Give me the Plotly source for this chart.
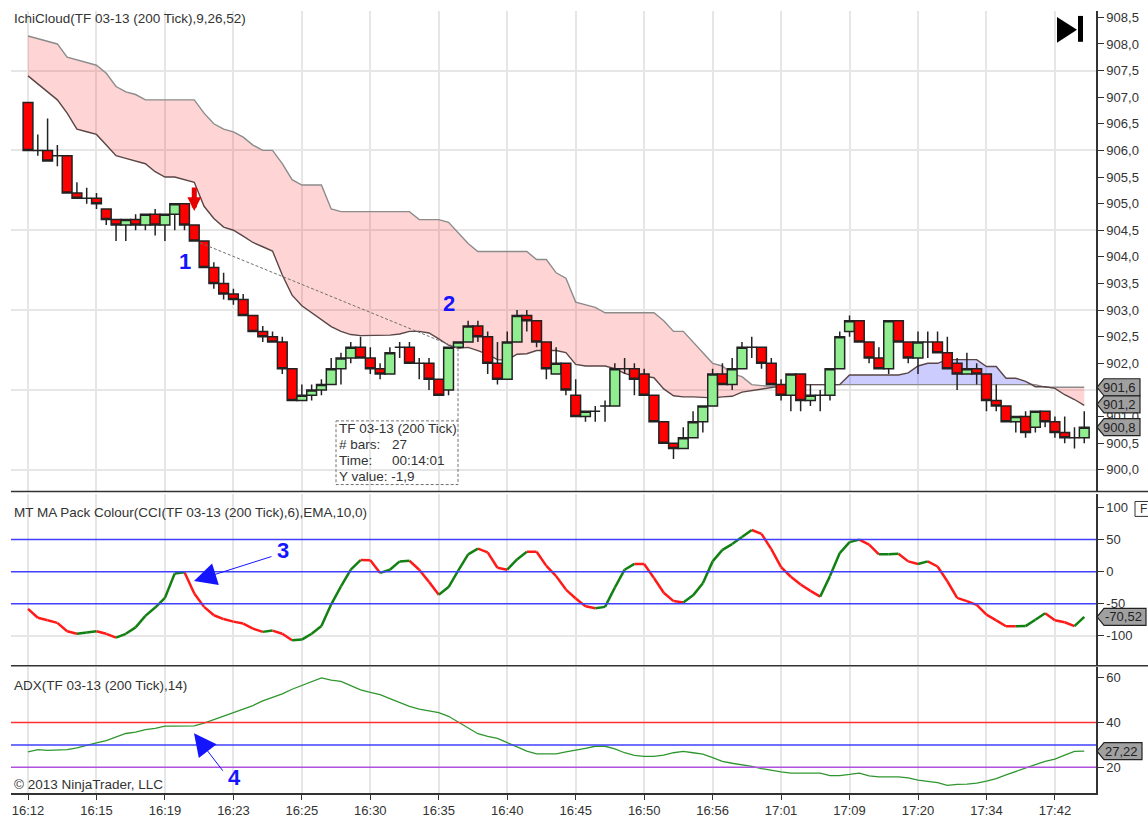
import plotly.graph_objects as go
from plotly.subplots import make_subplots

# ---------------- DATA ----------------
bar_open = [
    906.9, 906.0, 906.0, 905.9, 905.9, 905.2, 905.1, 905.1, 904.9, 904.7,
    904.6, 904.7, 904.6, 904.8, 904.6, 904.8, 905.0, 904.6, 904.3, 903.8,
    903.5, 903.3, 903.2, 902.9, 902.6, 902.5, 902.4, 901.9, 901.3, 901.4,
    901.5, 901.6, 901.9, 902.1, 902.3, 902.1, 901.9, 901.8, 902.3, 902.3,
    902.0, 902.0, 901.7, 901.5, 902.3, 902.4, 902.7, 902.5, 902.0, 901.7,
    902.4, 902.9, 902.8, 902.4, 901.8, 902.0, 901.4, 901.0, 901.1, 901.2,
    901.2, 901.9, 901.9, 901.8, 901.4, 900.9, 900.5, 900.4, 900.6, 900.9,
    901.2, 901.8, 901.6, 901.9, 902.3, 902.3, 902.0, 901.6, 901.4, 901.8,
    901.3, 901.4, 901.4, 901.9, 902.6, 902.8, 902.4, 902.1, 901.9, 902.8,
    902.4, 902.1, 902.4, 902.4, 902.2, 902.0, 901.8, 901.9, 901.8, 901.3,
    901.2, 900.9, 901.0, 900.8, 901.1, 900.9, 900.7, 900.6, 900.6,
]
bar_high = [
    906.9, 906.3, 906.6, 906.1, 905.9, 905.4, 905.3, 905.2, 904.9, 904.7,
    904.7, 904.8, 904.8, 904.9, 904.8, 905.0, 905.0, 904.6, 904.3, 903.9,
    903.7, 903.4, 903.3, 902.9, 902.7, 902.6, 902.5, 901.9, 901.6, 901.6,
    901.7, 902.1, 902.2, 902.4, 902.5, 902.3, 902.0, 902.3, 902.4, 902.4,
    902.1, 902.1, 901.7, 902.3, 902.4, 902.8, 902.8, 902.6, 902.4, 902.6,
    903.0, 903.0, 902.8, 902.4, 902.3, 902.0, 901.7, 901.1, 901.2, 901.3,
    902.0, 902.1, 902.0, 901.9, 901.4, 900.9, 900.5, 900.8, 901.1, 901.2,
    901.9, 902.0, 902.1, 902.4, 902.5, 902.3, 902.1, 901.7, 901.8, 901.8,
    901.6, 901.5, 901.9, 902.6, 902.9, 902.8, 902.4, 902.3, 902.8, 902.8,
    902.4, 902.6, 902.6, 902.6, 902.5, 902.1, 902.2, 902.0, 901.8, 901.6,
    901.2, 901.0, 901.1, 901.1, 901.1, 901.0, 901.0, 900.8, 901.1,
]
bar_low = [
    906.0, 905.9, 905.8, 905.7, 905.2, 905.1, 905.0, 904.9, 904.6, 904.3,
    904.3, 904.5, 904.5, 904.4, 904.3, 904.5, 904.5, 904.3, 903.8, 903.4,
    903.2, 903.1, 902.9, 902.6, 902.4, 902.4, 901.8, 901.3, 901.3, 901.3,
    901.4, 901.6, 901.6, 902.0, 902.1, 901.8, 901.7, 901.8, 902.1, 902.0,
    901.7, 901.5, 901.4, 901.4, 902.3, 902.4, 902.4, 901.8, 901.6, 901.7,
    902.4, 902.6, 902.3, 901.7, 901.8, 901.4, 901.0, 900.9, 900.9, 900.9,
    901.2, 901.8, 901.4, 901.4, 900.9, 900.5, 900.2, 900.4, 900.6, 900.7,
    901.2, 901.6, 901.5, 901.9, 902.1, 901.9, 901.6, 901.3, 901.1, 901.1,
    901.2, 901.1, 901.3, 901.9, 902.5, 902.4, 902.0, 901.9, 901.8, 902.4,
    902.0, 901.8, 902.1, 902.2, 901.9, 901.5, 901.8, 901.6, 901.1, 901.1,
    900.9, 900.7, 900.6, 900.7, 900.8, 900.6, 900.5, 900.4, 900.5,
]
bar_close = [
    906.0, 906.0, 905.8, 905.9, 905.2, 905.1, 905.1, 905.0, 904.7, 904.6,
    904.7, 904.6, 904.8, 904.6, 904.8, 905.0, 904.6, 904.3, 903.8, 903.5,
    903.3, 903.2, 902.9, 902.6, 902.5, 902.4, 901.9, 901.3, 901.4, 901.5,
    901.6, 901.9, 902.1, 902.3, 902.1, 901.9, 901.8, 902.2, 902.3, 902.0,
    902.0, 901.7, 901.4, 902.3, 902.4, 902.7, 902.5, 902.0, 901.7, 902.4,
    902.9, 902.8, 902.4, 901.9, 902.0, 901.5, 901.0, 901.1, 901.1, 901.2,
    901.9, 901.9, 901.7, 901.4, 900.9, 900.5, 900.4, 900.6, 900.9, 901.2,
    901.8, 901.6, 901.9, 902.3, 902.3, 902.0, 901.6, 901.4, 901.8, 901.3,
    901.4, 901.4, 901.9, 902.5, 902.8, 902.4, 902.1, 901.9, 902.8, 902.4,
    902.1, 902.4, 902.4, 902.2, 901.9, 901.8, 901.9, 901.8, 901.3, 901.2,
    900.9, 901.0, 900.7, 901.1, 900.9, 900.7, 900.6, 900.6, 900.8,
]
cloud_grey = [
    908.15, 908.1, 908.05, 908.0, 907.75, 907.7, 907.65, 907.6, 907.45, 907.2,
    907.1, 907.05, 906.95, 906.95, 906.95, 906.95, 906.95, 906.95, 906.7, 906.5,
    906.4, 906.35, 906.25, 906.1, 906.0, 906.0, 905.75, 905.45, 905.35, 905.35,
    905.35, 904.9, 904.85, 904.85, 904.85, 904.85, 904.85, 904.85, 904.85, 904.85,
    904.7, 904.7, 904.7, 904.65, 904.45, 904.25, 904.1, 904.1, 904.1, 904.1,
    904.1, 904.1, 903.95, 903.95, 903.7, 903.6, 903.15, 903.1, 903.05, 902.95,
    902.95, 902.95, 902.95, 902.95, 902.95, 902.8, 902.6, 902.6, 902.4, 902.2,
    902.0, 901.95, 901.8, 901.75, 901.6, 901.58, 901.57, 901.6, 901.6, 901.6,
    901.6, 901.6, 901.6, 901.6, 901.6, 901.6, 901.6, 901.6, 901.6, 901.6,
    901.6, 901.6, 901.6, 901.6, 901.6, 901.6, 901.6, 901.6, 901.6, 901.6,
    901.6, 901.6, 901.6, 901.6, 901.55, 901.55, 901.55, 901.55, 901.55,
]
cloud_dark = [
    907.4, 907.25, 907.1, 906.95, 906.7, 906.4, 906.35, 906.3, 906.1, 905.9,
    905.85, 905.8, 905.75, 905.6, 905.5, 905.5, 905.45, 905.4, 904.95, 904.72,
    904.56, 904.5, 904.39, 904.27, 904.19, 904.11, 903.66, 903.28, 903.08, 902.95,
    902.82, 902.69, 902.6, 902.54, 902.52, 902.52, 902.52, 902.53, 902.55, 902.6,
    902.6, 902.57, 902.46, 902.34, 902.28, 902.3, 902.24, 902.17, 902.07, 902.06,
    902.17, 902.18, 902.24, 902.24, 902.24, 902.2, 901.98, 901.95, 901.95, 901.95,
    901.9, 901.81, 901.76, 901.76, 901.73, 901.52, 901.39, 901.37, 901.37, 901.36,
    901.35, 901.37, 901.38, 901.46, 901.49, 901.51, 901.55, 901.57, 901.6, 901.6,
    901.6, 901.6, 901.6, 901.6, 901.78, 901.78, 901.78, 901.78, 901.78, 901.78,
    901.82, 901.95, 902.0, 902.0, 902.07, 902.07, 902.07, 902.07, 901.94, 901.94,
    901.72, 901.72, 901.66, 901.56, 901.56, 901.53, 901.41, 901.32, 901.21,
]
cci_ma = [
    -58, -72, -76, -80, -93, -97, -95, -93, -97, -103,
    -97, -87, -69, -56, -41, -3, -1, -34, -55, -68,
    -74, -78, -81, -89, -94, -92, -97, -107, -106, -97,
    -85, -51, -23, 3, 18, 17.9, -2, 3, 16, 17,
    3, -16, -36, -24, 2, 27, 36, 30, 6, 3,
    19, 31, 30.9, 9, -7, -28, -42, -54, -57, -55,
    -25, 3, 12, 11.9, -10, -33, -46, -48, -37, -18,
    16, 34, 43, 54, 65, 59, 35, 7, -8, -20,
    -30, -39, -7, 29, 46, 50, 42, 27, 27.2, 28,
    16, 12, 16, 8, -15, -41, -46, -52, -67, -76,
    -85.2, -85.4, -85, -75, -65, -76, -79, -85, -70.5,
]
adx = [
    26.9, 27.9, 27.6, 27.6, 27.9, 28.7, 29.9, 30.9, 31.9, 33.5,
    35.1, 35.7, 36.8, 37.4, 38.4, 38.4, 38.4, 38.5, 39.7, 41.3,
    42.9, 44.6, 46, 47.6, 49.7, 51.2, 52.8, 54.9, 56.6, 58.4,
    60, 59, 58.4, 56.5, 54.6, 53.5, 52.5, 50.7, 49.1, 47.2,
    46, 45.3, 44.4, 42.8, 40.1, 37.5, 35, 33.8, 32.9, 31,
    29.1, 27.2, 26, 26, 26, 26.9, 27.6, 28.5, 29.4, 29.4,
    28.2, 26.5, 25.3, 24.9, 24.9, 25.4, 26.5, 27.1, 26.5, 25.9,
    24.3, 22.6, 21.8, 21.2, 20.4, 19.4, 18.5, 17.9, 17.4, 17.4,
    17.4, 17.4, 16.3, 16.3, 16.8, 17.4, 16.2, 15.7, 15.7, 15.7,
    15.3, 14.3, 13.7, 13.1, 11.9, 12.4, 12.5, 12.9, 13.8, 14.9,
    16.6, 18.2, 19.7, 21.2, 22.6, 23.7, 25.4, 27.1, 27.22,
]
time_labels = ["16:12", "16:15", "16:19", "16:23", "16:25", "16:30", "16:35", "16:40",
               "16:45", "16:50", "16:56", "17:01", "17:09", "17:20", "17:34", "17:42"]
time_ticks = list(range(0, 112, 7))
price_ticks = [900 + 0.5 * i for i in range(18)]
price_grid = [900.0, 901.5, 903.0, 904.5, 906.0, 907.5]
cci_ticks = [-100, -50, 0, 50, 100]
cci_labels = ["-100", "-50", "0", "50", "100"]
cci_levels = [50, 0, -50]
adx_ticks = [20, 40, 60]
adx_levels = [(40, "#ff3030"), (30, "#4040ff"), (20, "#b050e0")]

FONT = "Liberation Sans"
TEXT = "#333333"
GRID = "#e6e6e6"
DARK = "#333333"
PRICE_RANGE = [899.61, 908.62]

bars = list(range(len(bar_open)))


# window pixels to paper coordinates (plot area is x 11-1096, y 0-796)
def px(x):
    return (x - 11) / 1085


def py(y):
    return 1 - y / 796


fig = make_subplots(rows=3, cols=1, shared_xaxes=True, vertical_spacing=0)

# ---------------- ICHIMOKU CLOUD ----------------
cloud_top = [max(g, d) for g, d in zip(cloud_grey, cloud_dark)]
for base, colour in ((cloud_dark, "rgba(255,0,0,0.17)"), (cloud_grey, "rgba(0,0,255,0.2)")):
    fig.add_trace(go.Scatter(x=bars, y=base, mode="lines", line=dict(width=0),
                             hoverinfo="skip"), row=1, col=1)
    fig.add_trace(go.Scatter(x=bars, y=cloud_top, mode="lines", line=dict(width=0),
                             fill="tonexty", fillcolor=colour, hoverinfo="skip"), row=1, col=1)
fig.add_trace(go.Scatter(x=bars, y=cloud_grey, mode="lines",
                         line=dict(color="#8c8c8c", width=1.4)), row=1, col=1)
fig.add_trace(go.Scatter(x=bars, y=cloud_dark, mode="lines",
                         line=dict(color="#5a4646", width=1.4)), row=1, col=1)

# ---------------- CCI MA, coloured by direction ----------------
for colour, rising in (("#ff1a1a", False), ("#128012", True)):
    seg_x, seg_y = [], []
    for i in bars[:-1]:
        if (cci_ma[i + 1] > cci_ma[i]) == rising:
            seg_x += [i, i + 1, None]
            seg_y += [cci_ma[i], cci_ma[i + 1], None]
    fig.add_trace(go.Scatter(x=seg_x, y=seg_y, mode="lines",
                             line=dict(color=colour, width=2.5)), row=2, col=1)

# ---------------- ADX ----------------
fig.add_trace(go.Scatter(x=bars, y=adx, mode="lines",
                         line=dict(color="#2f962f", width=1.3)), row=3, col=1)

# ---------------- CANDLES ----------------
# on an overlaying y axis, otherwise the cloud (scatter layer) paints over them
fig.add_trace(go.Candlestick(
    x=bars, open=bar_open, high=bar_high, low=bar_low, close=bar_close,
    xaxis="x", yaxis="y4",
    increasing=dict(fillcolor="#90ee90", line=dict(color="#222222", width=1.5)),
    decreasing=dict(fillcolor="#ff0000", line=dict(color="#222222", width=1.5)),
))

for level in cci_levels:
    fig.add_hline(y=level, line=dict(color="#4040ff", width=1.5), row=2, col=1)
for level, colour in adx_levels:
    fig.add_hline(y=level, line=dict(color=colour, width=1.5), row=3, col=1)

# ---------------- AXES ----------------
axis_style = dict(showline=True, linecolor=DARK, linewidth=1.5, side="right", ticks="outside",
                  ticklen=6, tickwidth=1, tickcolor=DARK, zeroline=False,
                  tickfont=dict(family=FONT, size=13, color=TEXT), tickmode="array")
fig.update_xaxes(range=[-1.74, 109.2], tickmode="array", tickvals=time_ticks, ticktext=time_labels,
                 showgrid=True, gridcolor=GRID, gridwidth=1.5, zeroline=False,
                 rangeslider_visible=False, tickfont=dict(family=FONT, size=13, color=TEXT))
fig.update_xaxes(showline=True, linecolor=DARK, linewidth=1.5, ticks="outside", ticklen=5,
                 tickcolor=DARK, row=3, col=1)
fig.update_yaxes(domain=[py(492), py(10)], range=PRICE_RANGE, tickvals=price_ticks,
                 tickformat=".1f", showgrid=False,
                 minor=dict(tickmode="array", tickvals=price_grid, showgrid=True, gridcolor=GRID,
                            gridwidth=1.5, ticks=""),
                 row=1, col=1, **axis_style)
fig.update_yaxes(domain=[py(668), py(495)], range=[-146.7, 121.9], tickvals=cci_ticks,
                 ticktext=cci_labels, showgrid=False,
                 minor=dict(tickmode="array", tickvals=[-100], showgrid=True, gridcolor=GRID,
                            gridwidth=1.5, ticks=""),
                 row=2, col=1, **axis_style)
fig.update_yaxes(domain=[py(796), py(669)], range=[8.5, 65], tickvals=adx_ticks, showgrid=False,
                 row=3, col=1, **axis_style)
fig.update_layout(yaxis4=dict(overlaying="y", range=PRICE_RANGE, visible=False, side="right"))


# ---------------- TEXT AND DRAWINGS ----------------
def label(text, x, y, size=13.5, color=TEXT, bold=False, align="left"):
    fig.add_annotation(text=f"<b>{text}</b>" if bold else text, xref="paper", yref="paper",
                       x=px(x), y=py(y), xanchor=align, yanchor="middle", showarrow=False,
                       align=align, xshift=-1, font=dict(family=FONT, size=size, color=color))


def arrow(tail_x, tail_y, tip_x, tip_y):
    fig.add_annotation(xref="paper", yref="paper", x=px(tip_x), y=py(tip_y),
                       ax=tail_x - tip_x, ay=tail_y - tip_y, axref="pixel", ayref="pixel",
                       showarrow=True, arrowhead=2, arrowsize=4.5, arrowwidth=1,
                       arrowcolor="#1414ff", text="")


label("IchiCloud(TF 03-13 (200 Tick),9,26,52)", 13, 18)
label("MT MA Pack Colour(CCI(TF 03-13 (200 Tick),6),EMA,10,0)", 13, 514)
label("ADX(TF 03-13 (200 Tick),14)", 13, 688)
label("© 2013 NinjaTrader, LLC", 13, 787)

label("1", 178, 262, size=22, color="#1414ff", bold=True)
label("2", 442, 304, size=22, color="#1414ff", bold=True)
label("3", 276, 552, size=22, color="#1414ff", bold=True)
label("4", 227, 780, size=22, color="#1414ff", bold=True)
arrow(273, 558, 194, 583)
arrow(224, 775, 194, 736)

# entry arrow on the ichimoku cross
fig.add_annotation(x=17, y=904.86, ax=17, ay=905.33, axref="x", ayref="y", xref="x", yref="y",
                   showarrow=True, arrowhead=2, arrowsize=0.55, arrowwidth=5,
                   arrowcolor="#e60000", text="")

# measure tool: line, vertical drop and read-out box
measure = dict(color="#707070", width=1, dash="3px,2px")
fig.add_shape(type="line", xref="paper", yref="paper", x0=px(200), y0=py(243), x1=px(458), y1=py(349), line=measure)
fig.add_shape(type="rect", xref="paper", yref="paper", x0=px(336), y0=py(422), x1=px(458), y1=py(486),
              line=measure, fillcolor="rgba(255,255,255,0)")
fig.add_shape(type="line", xref="paper", yref="paper", x0=px(458), y0=py(349), x1=px(458), y1=py(422), line=measure)
label("TF 03-13 (200 Tick)", 338, 430)
label("# bars:", 338, 446)
label("Time:", 338, 462)
label("Y value: -1,9", 338, 478)
label("27", 391, 446)
label("00:14:01", 391, 462)

# skip-to-end icon
fig.add_shape(type="path", xref="paper", yref="paper", fillcolor="black", line=dict(width=0),
              path=f"M {px(1057)} {py(16)} L {px(1077)} {py(29)} L {px(1057)} {py(42)} Z")
fig.add_shape(type="rect", xref="paper", yref="paper", fillcolor="black", line=dict(width=0),
              x0=px(1078), x1=px(1083), y0=py(15), y1=py(41))

# pane separators
for y in (493, 668):
    fig.add_shape(type="line", xref="paper", yref="paper", x0=px(11), x1=px(1150), y0=py(y), y1=py(y),
                  line=dict(color=DARK, width=1.5))

# small F button at the edge of the CCI pane
fig.add_shape(type="rect", xref="paper", yref="paper", x0=px(1135), x1=px(1152), y0=py(503), y1=py(518),
              line=dict(color=DARK, width=1), fillcolor="white")
label("F", 1139, 511, size=12)


# current value flags on the axis
def flag(text, value, yref, x_right):
    fig.add_shape(type="path", xref="paper", yref=yref, xsizemode="pixel", ysizemode="pixel",
                  xanchor=1, yanchor=value, fillcolor="#a0a0a0", line=dict(color="#222222", width=1.2),
                  path=f"M 1 0 L 8 8.5 L {x_right - 1096} 8.5 L {x_right - 1096} -8.5 L 8 -8.5 Z")
    fig.add_annotation(text=text, xref="paper", yref=yref, x=px(x_right - 2), y=value, xanchor="right",
                       yanchor="middle", showarrow=False, font=dict(family=FONT, size=13, color="#222222"))


flag("901,6", 901.55, "y", 1140)
flag("901,2", 901.23, "y", 1140)
flag("900,8", 900.8, "y", 1140)
flag("-70,52", -70.5, "y2", 1146)
flag("27,22", 27.22, "y3", 1142)

fig.update_layout(
    width=1148, height=818, margin=dict(l=11, r=52, t=0, b=22),
    paper_bgcolor="white", plot_bgcolor="white", showlegend=False,
    separators=",.", boxgap=0, boxgroupgap=0, hovermode=False,
)

# the page's default body margin would push the fixed-size figure out of the window
fig.write_html("out.html", config={"displayModeBar": False},
               post_script="document.body.style.margin='0';document.body.style.overflow='hidden';")
